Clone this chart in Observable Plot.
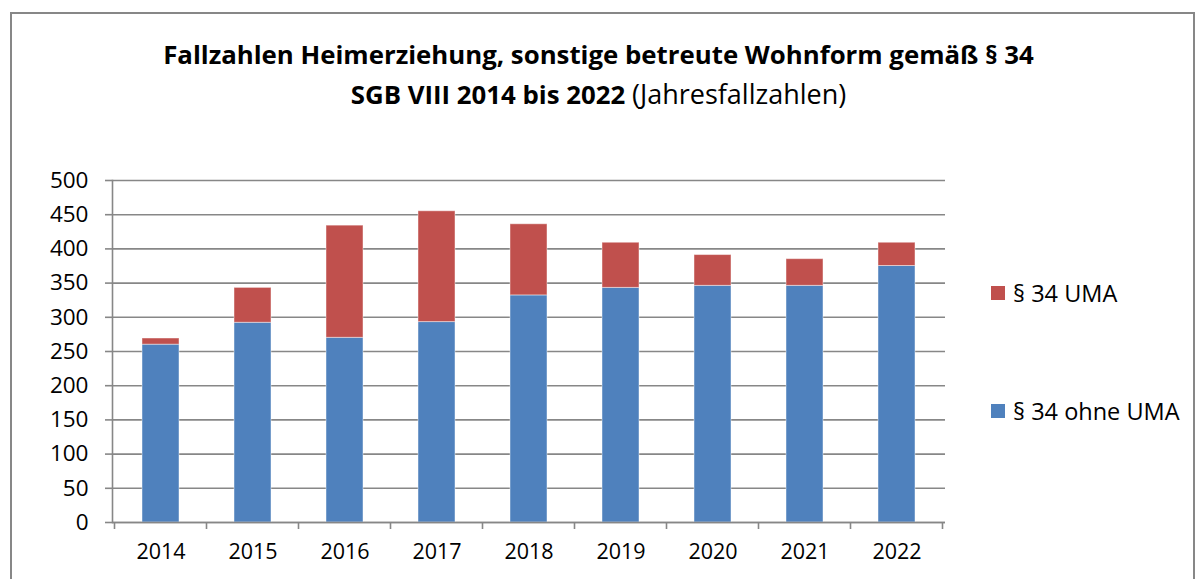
<!DOCTYPE html>
<html>
<head>
<meta charset="utf-8">
<script src="https://cdn.jsdelivr.net/npm/d3@7"></script>
<script src="https://cdn.jsdelivr.net/npm/@observablehq/plot@0.6"></script>
<style>
  html, body { margin: 0; padding: 0; background: #fff; overflow: hidden; }
  #wrap { position: relative; width: 1197px; height: 579px; overflow: hidden; font-family: "Open Sans", "Noto Sans", sans-serif; }
  #frame { position: absolute; left: 10px; top: 12px; width: 1185px; height: 620px; border: 2px solid #878787; box-sizing: border-box; }
  #title { position: absolute; left: 0; top: 34px; width: 1197px; text-align: center; font-size: 25.8px; line-height: 40px; color: #000; }
  #title b { font-weight: 700; }
  #title .sub { font-size: 27px; }
  #plot { position: absolute; left: 0; top: 0; }
  .leg { position: absolute; left: 991px; font-size: 23.5px; color: #000; line-height: 26px; }
  .leg span.sw { position: absolute; left: 0; top: 6px; width: 14px; height: 14px; }
  .leg span.tx { position: absolute; left: 22px; top: 0; white-space: nowrap; }
</style>
</head>
<body>
<div id="wrap">
  <div id="frame"></div>
  <div id="title"><b>Fallzahlen Heimerziehung, sonstige betreute Wohnform gemäß § 34</b><br><b>SGB VIII 2014 bis 2022</b> <span class="sub">(Jahresfallzahlen)</span></div>
  <div id="plot"></div>
  <div class="leg" style="top:280px"><span class="sw" style="background:#C0504D"></span><span class="tx">§ 34 UMA</span></div>
  <div class="leg" style="top:398px"><span class="sw" style="background:#4F81BD"></span><span class="tx">§ 34 ohne UMA</span></div>
</div>
<script>
const years = ["2014","2015","2016","2017","2018","2019","2020","2021","2022"];
const ohneUMA = [260, 292, 270, 293, 332, 343, 346, 346, 375];
const uma = [9, 51, 164, 162, 104, 66, 45, 39, 34];
const seriesNames = ["§ 34 ohne UMA", "§ 34 UMA"];
const seriesColors = ["#4F81BD", "#C0504D"];
const yTicks = [0, 50, 100, 150, 200, 250, 300, 350, 400, 450, 500];

const rows = [];
years.forEach((y, i) => {
  rows.push({year: y, series: seriesNames[0], value: ohneUMA[i]});
  rows.push({year: y, series: seriesNames[1], value: uma[i]});
});

const W = 1197, H = 579;
const mL = 112, mR = 252, mT = 180, mB = 57;
const gridColor = "#878787";

const chart = Plot.plot({
  width: W,
  height: H,
  marginLeft: mL,
  marginRight: mR,
  marginTop: mT,
  marginBottom: mB,
  style: {fontFamily: "'Open Sans', 'Noto Sans', sans-serif", fontSize: "21px", color: "#000", background: "transparent", overflow: "visible"},
  x: {domain: years, paddingInner: 0.6, paddingOuter: 0.3, label: null},
  y: {domain: [0, 500], label: null},
  color: {domain: seriesNames, range: seriesColors},
  marks: [
    Plot.gridY(yTicks, {stroke: gridColor, strokeOpacity: 1, strokeWidth: 1.6}),
    Plot.barY(rows, {x: "year", y: "value", fill: "series", order: seriesNames, stroke: "#ffffff", strokeOpacity: 0.45, strokeWidth: 1}),
    Plot.axisY(yTicks, {tickSize: 7, tickPadding: 17, stroke: gridColor, strokeWidth: 1.6, fill: "#000", label: null, fontSize: 22.5}),
    Plot.axisX({tickSize: 0, tickPadding: 21, fill: "#000", label: null, fontSize: 21.5}),
    Plot.frame({anchor: "left", stroke: gridColor, strokeWidth: 1.6}),
    Plot.ruleY([0], {stroke: gridColor, strokeWidth: 1.6})
  ]
});

// category boundary ticks on the x axis, from the library's x scale
const xs = chart.scale("x");
const y0 = chart.scale("y").apply(0);
const off = (xs.step - xs.bandwidth) / 2;
const bounds = years.map(y => xs.apply(y) - off);
bounds.push(xs.apply(years[years.length - 1]) + xs.bandwidth + off);
d3.select(chart).append("g")
  .selectAll("line").data(bounds).join("line")
  .attr("x1", d => d).attr("x2", d => d)
  .attr("y1", y0).attr("y2", y0 + 7)
  .attr("stroke", gridColor).attr("stroke-width", 1.6);

document.getElementById("plot").appendChild(chart);
</script>
</body>
</html>
